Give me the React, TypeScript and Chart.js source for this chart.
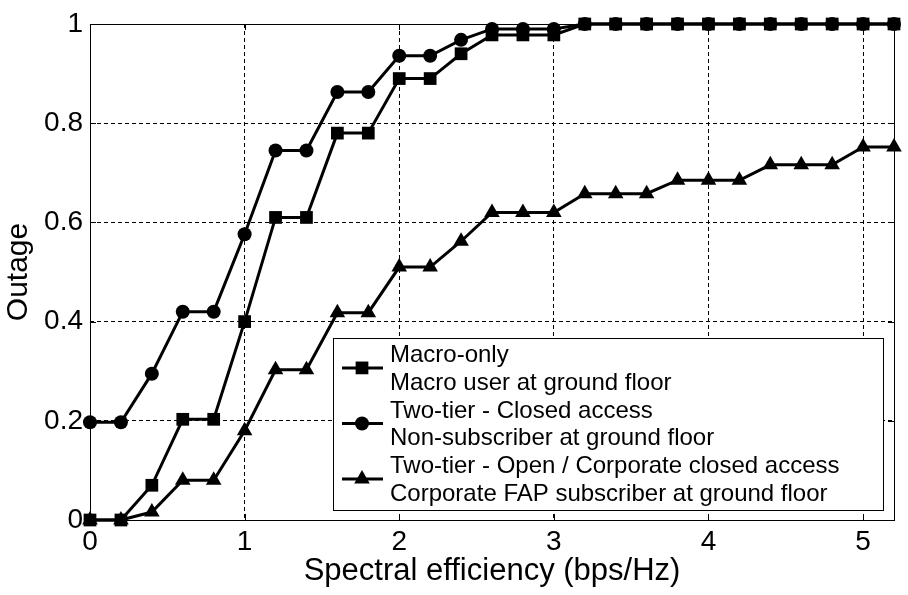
import { useEffect, useRef } from 'react';
import { Chart, registerables } from 'chart.js';

Chart.register(...registerables);

const xValues = [0, 0.2, 0.4, 0.6, 0.8, 1.0, 1.2, 1.4, 1.6, 1.8, 2.0, 2.2, 2.4, 2.6, 2.8, 3.0, 3.2, 3.4, 3.6, 3.8, 4.0, 4.2, 4.4, 4.6, 4.8, 5.0, 5.2];
const macroOnly = [0, 0, 0.07, 0.203, 0.203, 0.4, 0.61, 0.61, 0.78, 0.78, 0.89, 0.89, 0.94, 0.978, 0.978, 0.978, 1, 1, 1, 1, 1, 1, 1, 1, 1, 1, 1];
const closedAccess = [0.197, 0.197, 0.295, 0.42, 0.42, 0.576, 0.745, 0.745, 0.863, 0.863, 0.936, 0.936, 0.968, 0.99, 0.99, 0.99, 1, 1, 1, 1, 1, 1, 1, 1, 1, 1, 1];
const openAccess = [0, 0, 0.016, 0.08, 0.08, 0.18, 0.303, 0.303, 0.418, 0.418, 0.51, 0.51, 0.562, 0.62, 0.62, 0.62, 0.658, 0.658, 0.658, 0.685, 0.685, 0.685, 0.716, 0.716, 0.716, 0.752, 0.752];

const seriesLabels = [
  ['Macro-only', 'Macro user at ground floor'],
  ['Two-tier - Closed access', 'Non-subscriber at ground floor'],
  ['Two-tier - Open / Corporate closed access', 'Corporate FAP subscriber at ground floor'],
];
const seriesMarkers = ['rect', 'circle', 'triangle'];
const seriesRadii = [9, 7, 9];

const xTicks = [0, 1, 2, 3, 4, 5];
const yTicks = [0, 0.2, 0.4, 0.6, 0.8, 1];
const yTickLabels = ['0', '0.2', '0.4', '0.6', '0.8', '1'];
const xMin = 0;
const xMax = 5.2;
const xTitle = 'Spectral efficiency (bps/Hz)';
const yTitle = 'Outage';

const FONT = '"Liberation Sans", Arial, sans-serif';

function drawMarker(ctx: CanvasRenderingContext2D, style: string, r: number, x: number, y: number) {
  ctx.save();
  ctx.fillStyle = '#000';
  ctx.beginPath();
  if (style === 'rect') {
    const s = Math.SQRT1_2 * r;
    ctx.rect(x - s, y - s, 2 * s, 2 * s);
  } else if (style === 'circle') {
    ctx.arc(x, y, r, 0, Math.PI * 2);
  } else {
    ctx.moveTo(x, y - r);
    ctx.lineTo(x + Math.sin((2 * Math.PI) / 3) * r, y + r / 2);
    ctx.lineTo(x - Math.sin((2 * Math.PI) / 3) * r, y + r / 2);
    ctx.closePath();
  }
  ctx.fill();
  ctx.restore();
}

const framePlugin = {
  id: 'frameAndLegend',
  afterDraw(chart: any) {
    const { ctx, chartArea } = chart;
    const { left, right, top, bottom } = chartArea;
    const xs = chart.scales.x;
    const ys = chart.scales.y;
    ctx.save();
    ctx.setLineDash([]);
    ctx.strokeStyle = '#000';
    ctx.lineWidth = 1;
    ctx.strokeRect(Math.round(left) + 0.5, Math.round(top) + 0.5, Math.round(right - left), Math.round(bottom - top));
    const tl = 6;
    ctx.beginPath();
    xTicks.forEach((v) => {
      const px = Math.round(xs.getPixelForValue(v)) + 0.5;
      ctx.moveTo(px, bottom);
      ctx.lineTo(px, bottom - tl);
      ctx.moveTo(px, top);
      ctx.lineTo(px, top + tl);
    });
    yTicks.forEach((v) => {
      const py = Math.round(ys.getPixelForValue(v)) + 0.5;
      ctx.moveTo(left, py);
      ctx.lineTo(left + tl, py);
      ctx.moveTo(right, py);
      ctx.lineTo(right - tl, py);
    });
    ctx.stroke();

    // legend box
    const boxR = right - 11;
    const boxB = bottom - 10;
    const boxL = boxR - 550;
    const boxT = boxB - 172;
    ctx.fillStyle = '#fff';
    ctx.fillRect(boxL, boxT, boxR - boxL, boxB - boxT);
    ctx.strokeStyle = '#000';
    ctx.lineWidth = 1;
    ctx.strokeRect(Math.round(boxL) + 0.5, Math.round(boxT) + 0.5, Math.round(boxR - boxL), Math.round(boxB - boxT));

    ctx.font = '24px ' + FONT;
    ctx.fillStyle = '#000';
    ctx.textBaseline = 'alphabetic';
    ctx.textAlign = 'left';
    const lineGap = 27.8;
    const firstBase = boxT + 24;
    seriesLabels.forEach((lines, i) => {
      const b1 = firstBase + i * 2 * lineGap;
      const b2 = b1 + lineGap;
      ctx.fillStyle = '#000';
      lines.forEach((t, j) => {
        ctx.fillText(t, boxL + 57, j === 0 ? b1 : b2);
      });
      const my = (b1 + b2) / 2 - 8;
      ctx.strokeStyle = '#000';
      ctx.lineWidth = 3;
      ctx.beginPath();
      ctx.moveTo(boxL + 9, my);
      ctx.lineTo(boxL + 50, my);
      ctx.stroke();
      drawMarker(ctx, seriesMarkers[i], seriesRadii[i], boxL + 29, my);
    });
    ctx.restore();
  },
};

export default function App() {
  const canvasRef = useRef<HTMLCanvasElement | null>(null);

  useEffect(() => {
    document.body.style.margin = '0';
    const canvas = canvasRef.current;
    if (!canvas) return;
    const mk = (vals: number[]) => xValues.map((x, i) => ({ x, y: vals[i] }));
    const seriesData = [macroOnly, closedAccess, openAccess];
    const chart = new Chart(canvas, {
      type: 'line',
      data: {
        datasets: seriesData.map((vals, i) => ({
          label: seriesLabels[i].join(' '),
          data: mk(vals),
          borderColor: '#000',
          backgroundColor: '#000',
          borderWidth: 3,
          pointStyle: seriesMarkers[i] as any,
          pointRadius: seriesRadii[i],
          pointBackgroundColor: '#000',
          pointBorderColor: '#000',
          pointBorderWidth: 0,
          fill: false,
          tension: 0,
          clip: false as any,
        })),
      },
      options: {
        animation: false,
        responsive: false,
        events: [],
        layout: { padding: { top: 24, right: 14, left: 0, bottom: 0 } },
        plugins: { legend: { display: false }, tooltip: { enabled: false } },
        scales: {
          x: {
            type: 'linear',
            min: xMin,
            max: xMax,
            afterBuildTicks: (s: any) => {
              s.ticks = xTicks.map((v) => ({ value: v }));
            },
            afterFit: (s: any) => {
              s.height = 75;
            },
            grid: { color: '#000', lineWidth: 1, drawTicks: false, tickLength: 0 },
            border: { display: false, dash: [4, 3] },
            ticks: {
              color: '#000',
              font: { family: FONT, size: 28 },
              padding: 5,
              maxRotation: 0,
              autoSkip: false,
              callback: (v: any) => String(v),
            },
            title: {
              display: true,
              text: xTitle,
              color: '#000',
              font: { family: FONT, size: 31 },
              padding: { top: 0, bottom: 5 },
            },
          },
          y: {
            type: 'linear',
            min: 0,
            max: 1,
            afterBuildTicks: (s: any) => {
              s.ticks = yTicks.map((v) => ({ value: v }));
            },
            afterFit: (s: any) => {
              s.width = 90;
            },
            grid: { color: '#000', lineWidth: 1, drawTicks: false, tickLength: 0 },
            border: { display: false, dash: [4, 3] },
            ticks: {
              color: '#000',
              font: { family: FONT, size: 28 },
              padding: 7,
              autoSkip: false,
              callback: (v: any) => {
                const idx = yTicks.findIndex((t) => Math.abs(t - v) < 1e-9);
                return idx >= 0 ? yTickLabels[idx] : '';
              },
            },
            title: {
              display: true,
              text: yTitle,
              color: '#000',
              font: { family: FONT, size: 30 },
              padding: { top: 1, bottom: 0 },
            },
          },
        },
      },
      plugins: [framePlugin],
    } as any);
    return () => chart.destroy();
  }, []);

  return (
    <div style={{ width: 908, height: 595, background: '#fff' }}>
      <canvas ref={canvasRef} width={908} height={595} style={{ display: 'block' }} />
    </div>
  );
}
